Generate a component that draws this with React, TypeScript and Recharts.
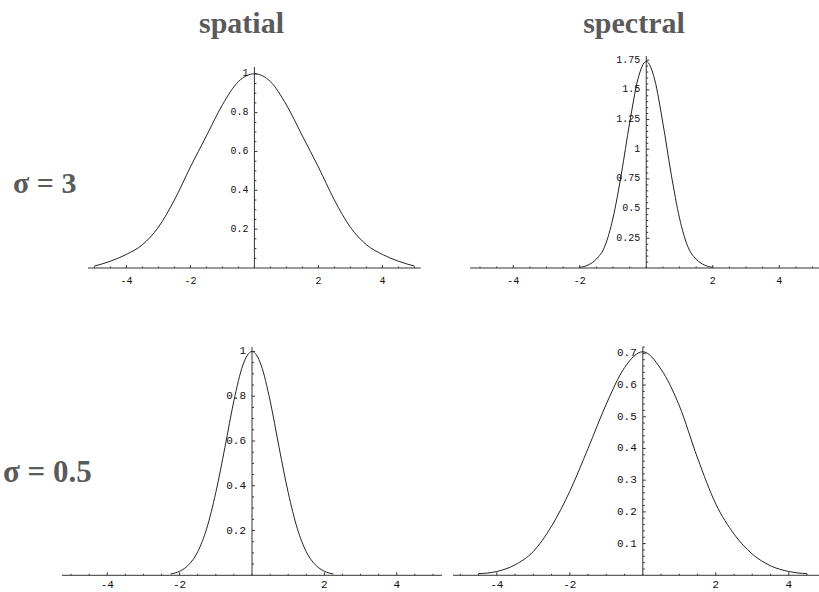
import React from 'react';
import { LineChart, Line, XAxis, YAxis, ReferenceLine, ReferenceDot } from 'recharts';

// spatial, sigma = 3
const spatialWideX = [-5, -4.5, -4, -3.5, -3, -2.5, -2, -1.5, -1, -0.5, 0, 0.5, 1, 1.5, 2, 2.5, 3, 3.5, 4, 4.5, 5];
const spatialWideY = [0.01, 0.035, 0.07, 0.12, 0.21, 0.35, 0.52, 0.68, 0.84, 0.96, 1, 0.96, 0.84, 0.68, 0.52, 0.35, 0.21, 0.12, 0.07, 0.035, 0.01];

// spectral, sigma = 3
const spectralNarrowX = [-2, -1.75, -1.5, -1.25, -1, -0.75, -0.5, -0.25, 0, 0.25, 0.5, 0.75, 1, 1.25, 1.5, 1.75, 2];
const spectralNarrowY = [0.005, 0.025, 0.075, 0.18, 0.42, 0.79, 1.22, 1.59, 1.74, 1.59, 1.22, 0.79, 0.42, 0.18, 0.075, 0.025, 0.005];

// spatial, sigma = 0.5
const spatialNarrowX = [-2.25, -2, -1.75, -1.5, -1.25, -1, -0.75, -0.5, -0.25, 0, 0.25, 0.5, 0.75, 1, 1.25, 1.5, 1.75, 2, 2.25];
const spatialNarrowY = [0.006, 0.018, 0.047, 0.105, 0.21, 0.37, 0.57, 0.78, 0.94, 1, 0.94, 0.78, 0.57, 0.37, 0.21, 0.105, 0.047, 0.018, 0.006];

// spectral, sigma = 0.5
const spectralWideX = [-4.5, -4, -3.5, -3, -2.5, -2, -1.5, -1, -0.5, 0, 0.5, 1, 1.5, 2, 2.5, 3, 3.5, 4, 4.5];
const spectralWideY = [0.005, 0.012, 0.033, 0.075, 0.155, 0.265, 0.4, 0.54, 0.655, 0.705, 0.65, 0.535, 0.37, 0.225, 0.13, 0.067, 0.03, 0.012, 0.005];

const xMajorTicks = [-4, -2, 2, 4];

const yMajorUnit = [0.2, 0.4, 0.6, 0.8, 1];
const yLabelsUnit = ['0.2', '0.4', '0.6', '0.8', '1'];
const yMajorSpectral3 = [0.25, 0.5, 0.75, 1, 1.25, 1.5, 1.75];
const yLabelsSpectral3 = ['0.25', '0.5', '0.75', '1', '1.25', '1.5', '1.75'];
const yMajorSpectral05 = [0.1, 0.2, 0.3, 0.4, 0.5, 0.6, 0.7];
const yLabelsSpectral05 = ['0.1', '0.2', '0.3', '0.4', '0.5', '0.6', '0.7'];

const AXIS = '#333';
const CURVE = '#222';
const TITLE = '#5a5a5a';
const PAD = 12;
const AXIS_H = 24;

const steps = (from: number, to: number, step: number) => {
  const out: number[] = [];
  for (let v = from; v <= to + 1e-9; v += step) out.push(Math.round(v * 1000) / 1000);
  return out;
};

const xTicks = steps(-5, 5, 0.5);

const XTick = (props: any) => {
  const { x, y, payload, labelSize, labelDy } = props;
  const v = payload.value;
  const major = xMajorTicks.includes(v);
  return (
    <g>
      <line x1={x} x2={x} y1={y} y2={y - (major ? 3 : 1.5)} stroke={AXIS} />
      {major && (
        <text x={x} y={y + labelDy} textAnchor="middle" fontSize={labelSize} fontFamily="Liberation Mono" fill="#111">
          {String(v)}
        </text>
      )}
    </g>
  );
};

const yTickShape = (label: string | null, labelSize: number) => (p: any) => (
  <g>
    <line x1={p.cx} x2={p.cx + (label ? 3 : 2)} y1={p.cy} y2={p.cy} stroke={AXIS} />
    {label && (
      <text x={p.cx - 6} y={p.cy} textAnchor="end" dominantBaseline="central" fontSize={labelSize} fontFamily="Liberation Mono" fill="#111">
        {label}
      </text>
    )}
  </g>
);

interface PanelProps {
  xs: number[];
  ys: number[];
  plotLeft: number;
  plotTop: number;
  plotW: number;
  plotH: number;
  xDomain: [number, number];
  yTop: number;
  yMajors: number[];
  yLabels: string[];
  yMinorStep: number;
  labelSize: number;
  labelDy: number;
}

function Panel({ xs, ys, plotLeft, plotTop, plotW, plotH, xDomain, yTop, yMajors, yLabels, yMinorStep, labelSize, labelDy }: PanelProps) {
  const data = xs.map((x, i) => ({ x, y: ys[i] }));
  const minors = steps(yMinorStep, yTop, yMinorStep).filter((v) => !yMajors.some((m) => Math.abs(m - v) < 1e-6));
  return (
    <div style={{ position: 'absolute', left: plotLeft - PAD, top: plotTop - PAD }}>
      <LineChart
        width={plotW + 2 * PAD}
        height={plotH + PAD + AXIS_H}
        data={data}
        margin={{ top: PAD, right: PAD, left: PAD, bottom: 0 }}
      >
        <XAxis
          type="number"
          dataKey="x"
          domain={xDomain}
          allowDataOverflow
          ticks={xTicks}
          interval={0}
          tickSize={0}
          tickMargin={0}
          tickLine={false}
          axisLine={{ stroke: AXIS }}
          height={AXIS_H}
          tick={<XTick labelSize={labelSize} labelDy={labelDy} />}
        />
        <YAxis type="number" domain={[0, yTop]} allowDataOverflow hide />
        <ReferenceLine x={0} stroke={AXIS} />
        {minors.map((v) => (
          <ReferenceDot key={'m' + v} x={0} y={v} r={0} shape={yTickShape(null, labelSize)} />
        ))}
        {yMajors.map((v, i) => (
          <ReferenceDot key={'M' + v} x={0} y={v} r={0} shape={yTickShape(yLabels[i], labelSize)} />
        ))}
        <Line type="monotone" dataKey="y" stroke={CURVE} strokeWidth={1} dot={false} isAnimationActive={false} />
      </LineChart>
    </div>
  );
}

export default function App() {
  return (
    <div style={{ position: 'relative', width: 819, height: 592, overflow: 'hidden', background: '#fff' }}>
      <style>{'body{margin:0}'}</style>
      <Panel
        xs={spatialWideX} ys={spatialWideY}
        plotLeft={88.4} plotTop={67} plotW={332.8} plotH={201}
        xDomain={[-5.2, 5.2]} yTop={1.035}
        yMajors={yMajorUnit} yLabels={yLabelsUnit} yMinorStep={0.05} labelSize={10} labelDy={16}
      />
      <Panel
        xs={spectralNarrowX} ys={spectralNarrowY}
        plotLeft={470} plotTop={56} plotW={352.5} plotH={212}
        xDomain={[-5.3, 5.3]} yTop={1.785}
        yMajors={yMajorSpectral3} yLabels={yLabelsSpectral3} yMinorStep={0.05} labelSize={10} labelDy={16}
      />
      <Panel
        xs={spatialNarrowX} ys={spatialNarrowY}
        plotLeft={62} plotTop={347} plotW={380} plotH={228.3}
        xDomain={[-5.25, 5.25]} yTop={1.02}
        yMajors={yMajorUnit} yLabels={yLabelsUnit} yMinorStep={0.05} labelSize={11} labelDy={13}
      />
      <Panel
        xs={spectralWideX} ys={spectralWideY}
        plotLeft={453} plotTop={347} plotW={379.6} plotH={228.3}
        xDomain={[-5.2, 5.2]} yTop={0.72}
        yMajors={yMajorSpectral05} yLabels={yLabelsSpectral05} yMinorStep={0.02} labelSize={11} labelDy={13}
      />
      <svg width={819} height={592} style={{ position: 'absolute', left: 0, top: 0, pointerEvents: 'none' }}>
        <g fontFamily="Liberation Serif" fontWeight="bold" fill={TITLE}>
          <text x={241.5} y={33} fontSize={30} textAnchor="middle">spatial</text>
          <text x={634} y={33} fontSize={30} textAnchor="middle">spectral</text>
          <text x={13} y={193} fontSize={30}>σ = 3</text>
          <text x={3} y={482} fontSize={31}>σ = 0.5</text>
        </g>
      </svg>
    </div>
  );
}
